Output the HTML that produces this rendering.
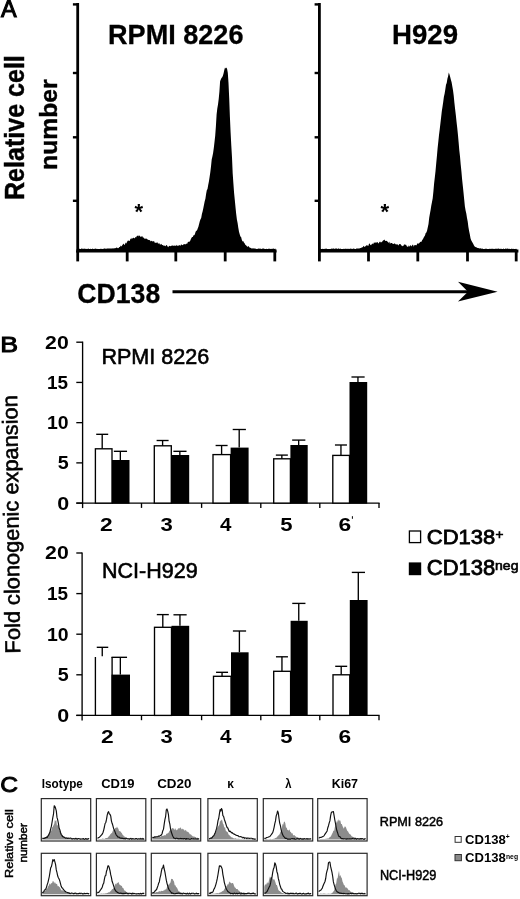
<!DOCTYPE html>
<html><head><meta charset="utf-8"><title>Figure</title>
<style>
html,body{margin:0;padding:0;background:#fff;}
body{width:520px;height:899px;overflow:hidden;}
svg{display:block;font-family:"Liberation Sans",sans-serif;}
</style></head><body>
<svg width="520" height="899" viewBox="0 0 520 899">
<rect width="520" height="899" fill="#fff"/>
<line x1="77.70" y1="3.00" x2="77.70" y2="252.40" stroke="#000" stroke-width="2.8" stroke-linecap="butt"/>
<line x1="76.30" y1="251.00" x2="276.60" y2="251.00" stroke="#000" stroke-width="3.0" stroke-linecap="butt"/>
<line x1="72.90" y1="4.40" x2="77.70" y2="4.40" stroke="#000" stroke-width="2.4" stroke-linecap="butt"/>
<line x1="72.90" y1="73.00" x2="77.70" y2="73.00" stroke="#000" stroke-width="2.4" stroke-linecap="butt"/>
<line x1="72.90" y1="137.30" x2="77.70" y2="137.30" stroke="#000" stroke-width="2.4" stroke-linecap="butt"/>
<line x1="72.90" y1="200.80" x2="77.70" y2="200.80" stroke="#000" stroke-width="2.4" stroke-linecap="butt"/>
<line x1="77.70" y1="251.00" x2="77.70" y2="261.40" stroke="#000" stroke-width="2.8" stroke-linecap="butt"/>
<line x1="127.20" y1="251.00" x2="127.20" y2="261.40" stroke="#000" stroke-width="2.8" stroke-linecap="butt"/>
<line x1="175.80" y1="251.00" x2="175.80" y2="261.40" stroke="#000" stroke-width="2.8" stroke-linecap="butt"/>
<line x1="225.20" y1="251.00" x2="225.20" y2="261.40" stroke="#000" stroke-width="2.8" stroke-linecap="butt"/>
<line x1="274.80" y1="251.00" x2="274.80" y2="261.40" stroke="#000" stroke-width="2.8" stroke-linecap="butt"/>
<line x1="319.40" y1="3.00" x2="319.40" y2="252.40" stroke="#000" stroke-width="2.8" stroke-linecap="butt"/>
<line x1="318.00" y1="251.00" x2="518.40" y2="251.00" stroke="#000" stroke-width="3.0" stroke-linecap="butt"/>
<line x1="314.60" y1="4.40" x2="319.40" y2="4.40" stroke="#000" stroke-width="2.4" stroke-linecap="butt"/>
<line x1="314.60" y1="73.00" x2="319.40" y2="73.00" stroke="#000" stroke-width="2.4" stroke-linecap="butt"/>
<line x1="314.60" y1="137.30" x2="319.40" y2="137.30" stroke="#000" stroke-width="2.4" stroke-linecap="butt"/>
<line x1="314.60" y1="200.80" x2="319.40" y2="200.80" stroke="#000" stroke-width="2.4" stroke-linecap="butt"/>
<line x1="319.40" y1="251.00" x2="319.40" y2="261.40" stroke="#000" stroke-width="2.8" stroke-linecap="butt"/>
<line x1="368.50" y1="251.00" x2="368.50" y2="261.40" stroke="#000" stroke-width="2.8" stroke-linecap="butt"/>
<line x1="417.80" y1="251.00" x2="417.80" y2="261.40" stroke="#000" stroke-width="2.8" stroke-linecap="butt"/>
<line x1="467.50" y1="251.00" x2="467.50" y2="261.40" stroke="#000" stroke-width="2.8" stroke-linecap="butt"/>
<line x1="516.20" y1="251.00" x2="516.20" y2="261.40" stroke="#000" stroke-width="2.8" stroke-linecap="butt"/>
<path d="M78.0,251.2 L78.0,248.6 L78.7,248.8 L79.4,248.7 L80.1,248.9 L80.8,248.9 L81.5,248.5 L82.2,248.5 L82.9,249.0 L83.6,248.7 L84.3,248.6 L85.0,249.1 L85.7,248.8 L86.4,249.0 L87.1,248.8 L87.8,248.9 L88.5,248.6 L89.2,248.9 L89.9,249.0 L90.6,248.8 L91.3,248.9 L92.0,248.9 L92.7,248.5 L93.4,249.0 L94.1,248.9 L94.8,248.7 L95.5,248.5 L96.2,249.0 L96.9,248.8 L97.6,248.9 L98.3,249.0 L99.0,248.9 L99.7,249.1 L100.4,248.7 L101.1,248.9 L101.8,248.7 L102.5,249.0 L103.2,248.9 L103.9,248.4 L104.6,248.4 L105.3,248.5 L106.0,248.9 L106.7,248.5 L107.4,248.6 L108.1,248.4 L108.8,248.5 L109.5,248.4 L110.2,248.4 L110.9,248.5 L111.6,248.5 L112.3,248.6 L113.0,248.3 L113.7,248.4 L114.4,248.2 L115.1,248.2 L115.8,247.9 L116.5,247.5 L117.2,247.7 L117.9,248.2 L118.6,247.9 L119.3,247.0 L120.0,247.0 L120.7,245.6 L121.4,246.4 L122.1,245.5 L122.8,244.5 L123.5,243.6 L124.2,244.8 L124.9,244.7 L125.6,242.6 L126.3,243.5 L127.0,242.0 L127.7,240.8 L128.4,240.5 L129.1,241.0 L129.8,240.7 L130.5,238.6 L131.2,239.3 L131.9,237.7 L132.6,238.7 L133.3,237.5 L134.0,238.3 L134.7,238.2 L135.4,236.9 L136.1,237.6 L136.8,236.1 L137.5,235.5 L138.2,236.5 L138.9,235.3 L139.6,235.8 L140.3,236.4 L141.0,237.0 L141.7,236.3 L142.4,236.3 L143.1,238.1 L143.8,237.2 L144.5,238.8 L145.2,239.0 L145.9,238.2 L146.6,238.7 L147.3,239.2 L148.0,239.7 L148.7,239.9 L149.4,240.1 L150.1,240.5 L150.8,241.4 L151.5,240.8 L152.2,240.9 L152.9,241.8 L153.6,241.1 L154.3,241.5 L155.0,243.2 L155.7,242.6 L156.4,242.9 L157.1,242.1 L157.8,243.2 L158.5,243.8 L159.2,242.9 L159.9,244.4 L160.6,244.6 L161.3,243.7 L162.0,245.1 L162.7,245.0 L163.4,245.7 L164.1,245.2 L164.8,246.1 L165.5,246.3 L166.2,245.0 L166.9,245.2 L167.6,246.6 L168.3,247.2 L169.0,245.7 L169.7,246.1 L170.4,246.3 L171.1,245.7 L171.8,245.7 L172.5,245.6 L173.2,245.6 L173.9,246.0 L174.6,245.4 L175.3,245.5 L176.0,246.2 L176.7,244.7 L177.4,245.8 L178.1,246.1 L178.8,245.2 L179.5,245.0 L180.2,246.1 L180.9,244.8 L181.6,244.6 L182.3,244.9 L183.0,245.3 L183.7,244.0 L184.4,244.3 L185.1,244.1 L185.8,244.6 L186.5,243.4 L187.2,243.7 L187.9,241.9 L188.6,241.7 L189.3,241.7 L190.0,241.3 L190.7,239.5 L191.4,238.1 L192.1,237.0 L192.8,236.9 L193.5,235.2 L194.2,235.3 L194.9,234.3 L195.6,231.8 L196.3,230.8 L197.0,230.6 L197.7,228.4 L198.4,226.8 L199.1,223.9 L199.8,221.2 L200.5,219.3 L201.2,218.1 L201.9,214.1 L202.6,211.4 L203.3,208.3 L204.0,204.8 L204.7,201.3 L205.4,198.8 L206.1,194.0 L206.8,190.3 L207.5,188.9 L208.2,185.1 L208.9,181.6 L209.6,176.9 L210.3,172.2 L211.0,166.5 L211.7,159.4 L212.4,156.6 L213.1,152.9 L213.8,147.9 L214.5,141.9 L215.2,135.8 L215.9,126.2 L216.6,114.6 L217.3,108.4 L218.0,104.5 L218.7,99.0 L219.4,91.7 L220.1,81.2 L220.8,79.6 L221.5,78.0 L222.2,77.3 L222.9,75.8 L223.6,73.2 L224.3,69.9 L225.0,67.6 L225.7,68.4 L226.4,67.6 L227.1,68.9 L227.8,72.8 L228.5,83.0 L229.2,98.0 L229.9,116.7 L230.6,132.2 L231.3,145.4 L232.0,157.6 L232.7,173.5 L233.4,183.4 L234.1,193.0 L234.8,200.0 L235.5,207.2 L236.2,213.9 L236.9,219.4 L237.6,222.9 L238.3,227.8 L239.0,231.8 L239.7,234.2 L240.4,236.4 L241.1,236.9 L241.8,239.7 L242.5,241.4 L243.2,241.1 L243.9,242.5 L244.6,243.3 L245.3,244.7 L246.0,245.3 L246.7,246.1 L247.4,247.1 L248.1,246.0 L248.8,246.5 L249.5,247.6 L250.2,247.8 L250.9,247.9 L251.6,248.5 L252.3,248.5 L253.0,248.2 L253.7,248.5 L254.4,248.5 L255.1,248.6 L255.8,248.7 L256.5,248.9 L257.2,248.9 L257.9,248.7 L258.6,248.6 L259.3,248.7 L260.0,248.6 L260.7,248.8 L261.4,248.9 L262.1,248.7 L262.8,248.5 L263.5,248.6 L264.2,248.7 L264.9,248.9 L265.6,249.0 L266.3,248.7 L267.0,249.0 L267.7,248.9 L268.4,248.8 L269.1,248.7 L269.8,248.8 L270.5,248.9 L271.2,248.8 L271.9,248.9 L272.6,248.8 L273.3,248.6 L274.0,248.8 L274.7,248.9 L275.4,248.5 L276.0,251.2 Z" fill="#000" stroke="none" stroke-width="1" stroke-linejoin="round"/>
<path d="M320.0,251.2 L320.0,248.8 L320.7,248.8 L321.4,249.0 L322.1,249.0 L322.8,248.7 L323.5,249.0 L324.2,248.9 L324.9,248.7 L325.6,248.8 L326.3,248.6 L327.0,249.0 L327.7,248.9 L328.4,249.0 L329.1,248.9 L329.8,248.9 L330.5,248.9 L331.2,248.8 L331.9,248.6 L332.6,248.8 L333.3,248.6 L334.0,248.6 L334.7,248.9 L335.4,248.6 L336.1,248.6 L336.8,248.6 L337.5,249.0 L338.2,248.6 L338.9,248.6 L339.6,249.0 L340.3,248.6 L341.0,249.0 L341.7,248.9 L342.4,249.0 L343.1,249.0 L343.8,248.8 L344.5,248.9 L345.2,248.6 L345.9,248.9 L346.6,248.8 L347.3,248.9 L348.0,248.6 L348.7,248.9 L349.4,249.0 L350.1,248.6 L350.8,248.7 L351.5,248.8 L352.2,249.0 L352.9,248.7 L353.6,248.6 L354.3,248.7 L355.0,248.9 L355.7,248.9 L356.4,248.6 L357.1,248.6 L357.8,248.5 L358.5,248.4 L359.2,248.4 L359.9,248.2 L360.6,248.1 L361.3,247.9 L362.0,247.1 L362.7,247.6 L363.4,245.8 L364.1,246.8 L364.8,246.7 L365.5,246.2 L366.2,245.6 L366.9,245.3 L367.6,245.5 L368.3,245.9 L369.0,243.8 L369.7,243.5 L370.4,244.9 L371.1,245.2 L371.8,244.0 L372.5,243.6 L373.2,244.2 L373.9,242.6 L374.6,242.7 L375.3,242.3 L376.0,243.1 L376.7,242.3 L377.4,241.9 L378.1,242.9 L378.8,243.4 L379.5,241.6 L380.2,242.5 L380.9,241.6 L381.6,242.5 L382.3,241.6 L383.0,240.5 L383.7,240.2 L384.4,239.4 L385.1,240.8 L385.8,240.9 L386.5,240.7 L387.2,241.5 L387.9,241.7 L388.6,243.0 L389.3,241.5 L390.0,243.9 L390.7,242.7 L391.4,243.1 L392.1,242.9 L392.8,244.0 L393.5,244.1 L394.2,243.6 L394.9,243.5 L395.6,244.3 L396.3,244.8 L397.0,243.7 L397.7,244.7 L398.4,245.5 L399.1,244.3 L399.8,243.9 L400.5,244.0 L401.2,245.4 L401.9,245.4 L402.6,246.3 L403.3,246.1 L404.0,244.6 L404.7,244.6 L405.4,244.8 L406.1,244.7 L406.8,246.2 L407.5,246.7 L408.2,246.8 L408.9,245.2 L409.6,246.7 L410.3,245.3 L411.0,245.6 L411.7,246.4 L412.4,244.7 L413.1,244.8 L413.8,246.7 L414.5,245.1 L415.2,245.0 L415.9,245.2 L416.6,245.2 L417.3,243.2 L418.0,243.8 L418.7,243.6 L419.4,243.1 L420.1,241.9 L420.8,241.8 L421.5,241.7 L422.2,239.9 L422.9,239.3 L423.6,237.7 L424.3,236.4 L425.0,235.5 L425.7,233.0 L426.4,232.5 L427.1,230.6 L427.8,227.3 L428.5,223.9 L429.2,217.8 L429.9,213.8 L430.6,209.9 L431.3,205.4 L432.0,202.1 L432.7,198.2 L433.4,191.5 L434.1,183.6 L434.8,177.6 L435.5,171.2 L436.2,163.6 L436.9,156.2 L437.6,148.3 L438.3,141.8 L439.0,135.1 L439.7,129.6 L440.4,123.5 L441.1,117.5 L441.8,111.2 L442.5,106.8 L443.2,102.1 L443.9,96.8 L444.6,93.8 L445.3,89.5 L446.0,84.8 L446.7,83.0 L447.4,78.8 L448.1,76.2 L448.8,72.5 L449.5,74.4 L450.2,76.9 L450.9,79.7 L451.6,82.2 L452.3,86.2 L453.0,90.3 L453.7,95.6 L454.4,102.7 L455.1,108.9 L455.8,114.8 L456.5,121.4 L457.2,127.6 L457.9,134.2 L458.6,142.0 L459.3,150.3 L460.0,156.4 L460.7,164.4 L461.4,171.3 L462.1,179.2 L462.8,185.7 L463.5,192.6 L464.2,199.6 L464.9,206.6 L465.6,210.6 L466.3,213.6 L467.0,218.0 L467.7,221.5 L468.4,227.1 L469.1,231.0 L469.8,234.2 L470.5,238.2 L471.2,240.2 L471.9,241.4 L472.6,242.7 L473.3,244.0 L474.0,245.5 L474.7,246.6 L475.4,247.0 L476.1,247.3 L476.8,247.5 L477.5,248.0 L478.2,248.0 L478.9,248.2 L479.6,248.4 L480.3,248.3 L481.0,248.4 L481.7,248.8 L482.4,248.5 L483.1,248.9 L483.8,249.0 L484.5,249.0 L485.2,248.7 L485.9,248.8 L486.6,248.8 L487.3,248.9 L488.0,249.0 L488.7,248.9 L489.4,248.7 L490.1,249.0 L490.8,248.8 L491.5,248.8 L492.2,248.9 L492.9,248.6 L493.6,248.9 L494.3,248.9 L495.0,248.8 L495.7,248.8 L496.4,248.8 L497.1,248.7 L497.8,248.8 L498.5,248.6 L499.2,248.8 L499.9,248.9 L500.6,248.8 L501.3,248.8 L502.0,249.0 L502.7,249.0 L503.4,248.6 L504.1,248.9 L504.8,248.9 L505.5,248.6 L506.2,248.7 L506.9,248.7 L507.6,248.6 L508.3,248.8 L509.0,249.0 L509.7,248.7 L510.4,249.0 L511.1,248.9 L511.8,248.6 L512.5,249.0 L513.2,248.8 L513.9,249.0 L514.6,248.9 L515.3,248.9 L516.0,248.7 L516.7,248.9 L517.0,251.2 Z" fill="#000" stroke="none" stroke-width="1" stroke-linejoin="round"/>
<text transform="translate(0.94,17.10) scale(0.9632,1)" font-size="24.29" font-weight="normal" fill="#000" stroke="#000" stroke-width="1.1">A</text>
<text transform="translate(108.07,43.80) scale(0.9690,1)" font-size="27.93" font-weight="bold" fill="#000" stroke="#000" stroke-width="0.3">RPMI 8226</text>
<text transform="translate(392.04,43.80) scale(0.9691,1)" font-size="28.51" font-weight="bold" fill="#000" stroke="#000" stroke-width="0.3">H929</text>
<text transform="translate(77.34,303.00) scale(0.9435,1)" font-size="28.22" font-weight="bold" fill="#000" stroke="#000" stroke-width="0.3">CD138</text>
<text transform="translate(134.44,219.37) scale(1.0280,1)" font-size="21.48" font-weight="bold" fill="#000">*</text>
<text transform="translate(380.54,218.57) scale(1.0401,1)" font-size="21.48" font-weight="bold" fill="#000">*</text>
<text transform="translate(23.50,199.99) rotate(-90) scale(1,1.1283)" font-size="25.06" font-weight="bold" fill="#000" stroke="#000" stroke-width="0.4">Relative cell</text>
<text transform="translate(57.00,169.90) rotate(-90) scale(1,0.9841)" font-size="24.67" font-weight="bold" fill="#000" stroke="#000" stroke-width="0.4">number</text>
<line x1="172.50" y1="291.70" x2="470.00" y2="291.70" stroke="#000" stroke-width="3.0" stroke-linecap="butt"/>
<path d="M497.6,291.7 L458.0,281.8 L468.0,291.7 L458.0,301.5 Z" fill="#000" stroke="none" stroke-width="1" stroke-linejoin="round"/>
<line x1="82.60" y1="341.60" x2="82.60" y2="508.10" stroke="#000" stroke-width="1.35" stroke-linecap="butt"/>
<line x1="76.30" y1="503.10" x2="379.60" y2="503.10" stroke="#000" stroke-width="1.35" stroke-linecap="butt"/>
<line x1="76.30" y1="503.10" x2="82.60" y2="503.10" stroke="#000" stroke-width="1.35" stroke-linecap="butt"/>
<text transform="translate(57.34,509.50) scale(1.1887,1)" font-size="18.06" font-weight="bold" fill="#000">0</text>
<line x1="76.30" y1="462.88" x2="82.60" y2="462.88" stroke="#000" stroke-width="1.35" stroke-linecap="butt"/>
<text transform="translate(57.71,469.27) scale(1.0905,1)" font-size="18.06" font-weight="bold" fill="#000">5</text>
<line x1="76.30" y1="422.65" x2="82.60" y2="422.65" stroke="#000" stroke-width="1.35" stroke-linecap="butt"/>
<text transform="translate(46.98,429.05) scale(1.0769,1)" font-size="18.06" font-weight="bold" fill="#000">10</text>
<line x1="76.30" y1="382.43" x2="82.60" y2="382.43" stroke="#000" stroke-width="1.35" stroke-linecap="butt"/>
<text transform="translate(47.02,388.82) scale(1.0474,1)" font-size="18.06" font-weight="bold" fill="#000">15</text>
<line x1="76.30" y1="342.20" x2="82.60" y2="342.20" stroke="#000" stroke-width="1.35" stroke-linecap="butt"/>
<text transform="translate(45.06,348.60) scale(1.1767,1)" font-size="18.06" font-weight="bold" fill="#000">20</text>
<line x1="141.50" y1="503.10" x2="141.50" y2="507.90" stroke="#000" stroke-width="1.35" stroke-linecap="butt"/>
<line x1="201.60" y1="503.10" x2="201.60" y2="507.90" stroke="#000" stroke-width="1.35" stroke-linecap="butt"/>
<line x1="260.80" y1="503.10" x2="260.80" y2="507.90" stroke="#000" stroke-width="1.35" stroke-linecap="butt"/>
<line x1="319.80" y1="503.10" x2="319.80" y2="507.90" stroke="#000" stroke-width="1.35" stroke-linecap="butt"/>
<line x1="379.00" y1="503.10" x2="379.00" y2="507.90" stroke="#000" stroke-width="1.35" stroke-linecap="butt"/>
<text transform="translate(101.42,363.80) scale(0.9692,1)" font-size="22.25" font-weight="normal" fill="#000" stroke="#000" stroke-width="0.6">RPMI 8226</text>
<rect x="95.40" y="448.80" width="16.60" height="54.30" fill="#fff" stroke="#000" stroke-width="1.35"/>
<line x1="102.20" y1="434.30" x2="102.20" y2="448.80" stroke="#000" stroke-width="1.35" stroke-linecap="butt"/>
<line x1="96.20" y1="434.30" x2="108.20" y2="434.30" stroke="#000" stroke-width="1.35" stroke-linecap="butt"/>
<rect x="112.00" y="460.00" width="17.50" height="43.70" fill="#000"/>
<line x1="120.35" y1="451.30" x2="120.35" y2="460.00" stroke="#000" stroke-width="1.35" stroke-linecap="butt"/>
<line x1="113.85" y1="451.30" x2="127.05" y2="451.30" stroke="#000" stroke-width="1.35" stroke-linecap="butt"/>
<text transform="translate(99.90,530.60) scale(1.2423,1)" font-size="18.35" font-weight="bold" fill="#000">2</text>
<rect x="154.30" y="445.80" width="17.00" height="57.30" fill="#fff" stroke="#000" stroke-width="1.35"/>
<line x1="162.60" y1="440.50" x2="162.60" y2="445.80" stroke="#000" stroke-width="1.35" stroke-linecap="butt"/>
<line x1="156.60" y1="440.50" x2="168.60" y2="440.50" stroke="#000" stroke-width="1.35" stroke-linecap="butt"/>
<rect x="171.30" y="455.00" width="17.90" height="48.70" fill="#000"/>
<line x1="179.85" y1="451.30" x2="179.85" y2="455.00" stroke="#000" stroke-width="1.35" stroke-linecap="butt"/>
<line x1="173.35" y1="451.30" x2="186.55" y2="451.30" stroke="#000" stroke-width="1.35" stroke-linecap="butt"/>
<text transform="translate(160.50,530.60) scale(1.2049,1)" font-size="18.35" font-weight="bold" fill="#000">3</text>
<rect x="213.00" y="454.60" width="17.60" height="48.50" fill="#fff" stroke="#000" stroke-width="1.35"/>
<line x1="221.60" y1="445.50" x2="221.60" y2="454.60" stroke="#000" stroke-width="1.35" stroke-linecap="butt"/>
<line x1="215.60" y1="445.50" x2="227.60" y2="445.50" stroke="#000" stroke-width="1.35" stroke-linecap="butt"/>
<rect x="230.60" y="447.60" width="18.00" height="56.10" fill="#000"/>
<line x1="239.20" y1="429.50" x2="239.20" y2="447.60" stroke="#000" stroke-width="1.35" stroke-linecap="butt"/>
<line x1="232.70" y1="429.50" x2="245.90" y2="429.50" stroke="#000" stroke-width="1.35" stroke-linecap="butt"/>
<text transform="translate(220.09,530.60) scale(1.1204,1)" font-size="18.35" font-weight="bold" fill="#000">4</text>
<rect x="273.70" y="458.80" width="16.70" height="44.30" fill="#fff" stroke="#000" stroke-width="1.35"/>
<line x1="281.85" y1="455.10" x2="281.85" y2="458.80" stroke="#000" stroke-width="1.35" stroke-linecap="butt"/>
<line x1="275.85" y1="455.10" x2="287.85" y2="455.10" stroke="#000" stroke-width="1.35" stroke-linecap="butt"/>
<rect x="290.40" y="445.00" width="17.30" height="58.70" fill="#000"/>
<line x1="298.65" y1="440.10" x2="298.65" y2="445.00" stroke="#000" stroke-width="1.35" stroke-linecap="butt"/>
<line x1="292.15" y1="440.10" x2="305.35" y2="440.10" stroke="#000" stroke-width="1.35" stroke-linecap="butt"/>
<text transform="translate(280.34,530.60) scale(1.2049,1)" font-size="18.35" font-weight="bold" fill="#000">5</text>
<rect x="332.80" y="455.40" width="16.70" height="47.70" fill="#fff" stroke="#000" stroke-width="1.35"/>
<line x1="340.95" y1="445.00" x2="340.95" y2="455.40" stroke="#000" stroke-width="1.35" stroke-linecap="butt"/>
<line x1="334.95" y1="445.00" x2="346.95" y2="445.00" stroke="#000" stroke-width="1.35" stroke-linecap="butt"/>
<rect x="349.50" y="382.00" width="17.70" height="121.70" fill="#000"/>
<line x1="357.95" y1="377.00" x2="357.95" y2="382.00" stroke="#000" stroke-width="1.35" stroke-linecap="butt"/>
<line x1="351.45" y1="377.00" x2="364.65" y2="377.00" stroke="#000" stroke-width="1.35" stroke-linecap="butt"/>
<text transform="translate(338.55,530.60) scale(1.2423,1)" font-size="18.35" font-weight="bold" fill="#000">6</text>
<line x1="82.10" y1="552.40" x2="82.10" y2="720.40" stroke="#000" stroke-width="1.35" stroke-linecap="butt"/>
<line x1="76.30" y1="715.40" x2="379.60" y2="715.40" stroke="#000" stroke-width="1.35" stroke-linecap="butt"/>
<line x1="76.30" y1="715.40" x2="82.10" y2="715.40" stroke="#000" stroke-width="1.35" stroke-linecap="butt"/>
<text transform="translate(57.34,721.80) scale(1.1887,1)" font-size="18.06" font-weight="bold" fill="#000">0</text>
<line x1="76.30" y1="674.80" x2="82.10" y2="674.80" stroke="#000" stroke-width="1.35" stroke-linecap="butt"/>
<text transform="translate(57.71,681.20) scale(1.0905,1)" font-size="18.06" font-weight="bold" fill="#000">5</text>
<line x1="76.30" y1="634.20" x2="82.10" y2="634.20" stroke="#000" stroke-width="1.35" stroke-linecap="butt"/>
<text transform="translate(46.98,640.60) scale(1.0769,1)" font-size="18.06" font-weight="bold" fill="#000">10</text>
<line x1="76.30" y1="593.60" x2="82.10" y2="593.60" stroke="#000" stroke-width="1.35" stroke-linecap="butt"/>
<text transform="translate(47.02,600.00) scale(1.0474,1)" font-size="18.06" font-weight="bold" fill="#000">15</text>
<line x1="76.30" y1="553.00" x2="82.10" y2="553.00" stroke="#000" stroke-width="1.35" stroke-linecap="butt"/>
<text transform="translate(45.06,559.40) scale(1.1767,1)" font-size="18.06" font-weight="bold" fill="#000">20</text>
<line x1="141.50" y1="715.40" x2="141.50" y2="720.20" stroke="#000" stroke-width="1.35" stroke-linecap="butt"/>
<line x1="201.60" y1="715.40" x2="201.60" y2="720.20" stroke="#000" stroke-width="1.35" stroke-linecap="butt"/>
<line x1="260.80" y1="715.40" x2="260.80" y2="720.20" stroke="#000" stroke-width="1.35" stroke-linecap="butt"/>
<line x1="319.80" y1="715.40" x2="319.80" y2="720.20" stroke="#000" stroke-width="1.35" stroke-linecap="butt"/>
<line x1="379.00" y1="715.40" x2="379.00" y2="720.20" stroke="#000" stroke-width="1.35" stroke-linecap="butt"/>
<text transform="translate(102.02,578.20) scale(0.9807,1)" font-size="21.96" font-weight="normal" fill="#000" stroke="#000" stroke-width="0.6">NCI-H929</text>
<line x1="95.40" y1="657.00" x2="95.40" y2="715.40" stroke="#000" stroke-width="1.35" stroke-linecap="butt"/>
<line x1="112.10" y1="657.00" x2="112.10" y2="715.40" stroke="#000" stroke-width="1.35" stroke-linecap="butt"/>
<line x1="102.25" y1="647.30" x2="102.25" y2="656.30" stroke="#000" stroke-width="1.35" stroke-linecap="butt"/>
<line x1="96.75" y1="647.30" x2="108.25" y2="647.30" stroke="#000" stroke-width="1.35" stroke-linecap="butt"/>
<rect x="111.50" y="674.60" width="18.50" height="41.40" fill="#000"/>
<line x1="120.35" y1="657.30" x2="120.35" y2="674.60" stroke="#000" stroke-width="1.35" stroke-linecap="butt"/>
<line x1="111.50" y1="657.30" x2="127.05" y2="657.30" stroke="#000" stroke-width="1.35" stroke-linecap="butt"/>
<text transform="translate(101.00,743.30) scale(1.1867,1)" font-size="19.21" font-weight="bold" fill="#000">2</text>
<rect x="154.50" y="627.30" width="17.00" height="88.10" fill="#fff" stroke="#000" stroke-width="1.35"/>
<line x1="162.80" y1="614.60" x2="162.80" y2="627.30" stroke="#000" stroke-width="1.35" stroke-linecap="butt"/>
<line x1="156.80" y1="614.60" x2="168.80" y2="614.60" stroke="#000" stroke-width="1.35" stroke-linecap="butt"/>
<rect x="171.50" y="625.80" width="17.70" height="90.20" fill="#000"/>
<line x1="179.95" y1="614.80" x2="179.95" y2="625.80" stroke="#000" stroke-width="1.35" stroke-linecap="butt"/>
<line x1="173.45" y1="614.80" x2="186.65" y2="614.80" stroke="#000" stroke-width="1.35" stroke-linecap="butt"/>
<text transform="translate(160.50,743.30) scale(1.1509,1)" font-size="19.21" font-weight="bold" fill="#000">3</text>
<rect x="213.50" y="676.30" width="17.50" height="39.10" fill="#fff" stroke="#000" stroke-width="1.35"/>
<line x1="222.05" y1="672.30" x2="222.05" y2="676.30" stroke="#000" stroke-width="1.35" stroke-linecap="butt"/>
<line x1="216.05" y1="672.30" x2="228.05" y2="672.30" stroke="#000" stroke-width="1.35" stroke-linecap="butt"/>
<rect x="231.00" y="652.30" width="17.60" height="63.70" fill="#000"/>
<line x1="239.40" y1="631.00" x2="239.40" y2="652.30" stroke="#000" stroke-width="1.35" stroke-linecap="butt"/>
<line x1="232.90" y1="631.00" x2="246.10" y2="631.00" stroke="#000" stroke-width="1.35" stroke-linecap="butt"/>
<text transform="translate(220.09,743.30) scale(1.0702,1)" font-size="19.21" font-weight="bold" fill="#000">4</text>
<rect x="273.70" y="671.30" width="16.90" height="44.10" fill="#fff" stroke="#000" stroke-width="1.35"/>
<line x1="281.95" y1="656.80" x2="281.95" y2="671.30" stroke="#000" stroke-width="1.35" stroke-linecap="butt"/>
<line x1="275.95" y1="656.80" x2="287.95" y2="656.80" stroke="#000" stroke-width="1.35" stroke-linecap="butt"/>
<rect x="290.60" y="620.80" width="17.10" height="95.20" fill="#000"/>
<line x1="298.75" y1="603.40" x2="298.75" y2="620.80" stroke="#000" stroke-width="1.35" stroke-linecap="butt"/>
<line x1="292.25" y1="603.40" x2="305.45" y2="603.40" stroke="#000" stroke-width="1.35" stroke-linecap="butt"/>
<text transform="translate(280.34,743.30) scale(1.1509,1)" font-size="19.21" font-weight="bold" fill="#000">5</text>
<rect x="333.00" y="674.80" width="16.80" height="40.60" fill="#fff" stroke="#000" stroke-width="1.35"/>
<line x1="341.20" y1="666.30" x2="341.20" y2="674.80" stroke="#000" stroke-width="1.35" stroke-linecap="butt"/>
<line x1="335.20" y1="666.30" x2="347.20" y2="666.30" stroke="#000" stroke-width="1.35" stroke-linecap="butt"/>
<rect x="349.80" y="600.00" width="17.80" height="116.00" fill="#000"/>
<line x1="358.30" y1="572.40" x2="358.30" y2="600.00" stroke="#000" stroke-width="1.35" stroke-linecap="butt"/>
<line x1="351.80" y1="572.40" x2="365.00" y2="572.40" stroke="#000" stroke-width="1.35" stroke-linecap="butt"/>
<text transform="translate(338.55,743.30) scale(1.1867,1)" font-size="19.21" font-weight="bold" fill="#000">6</text>
<line x1="352.40" y1="516.20" x2="352.40" y2="518.80" stroke="#000" stroke-width="1.0" stroke-linecap="butt"/>
<text transform="translate(0.20,352.20) scale(1.1603,1)" font-size="22.98" font-weight="normal" fill="#000" stroke="#000" stroke-width="1.0">B</text>
<text transform="translate(20.20,653.40) rotate(-90.66) scale(1,0.9861)" font-size="21.82" font-weight="normal" fill="#000" stroke="#000" stroke-width="0.55">Fold clonogenic expansion</text>
<rect x="409.40" y="531.00" width="11.20" height="11.60" fill="#fff" stroke="#000" stroke-width="1.3"/>
<text transform="translate(426.80,543.50) scale(1.0440,1)" font-size="21.09" font-weight="normal" fill="#000" stroke="#000" stroke-width="0.8">CD138</text>
<text transform="translate(495.56,538.91) scale(1.0700,1)" font-size="12.65" font-weight="normal" fill="#000" stroke="#000" stroke-width="0.7">+</text>
<rect x="408.8" y="562.4" width="12.4" height="12.8" fill="#000"/>
<text transform="translate(426.80,575.20) scale(1.0369,1)" font-size="21.24" font-weight="normal" fill="#000" stroke="#000" stroke-width="0.8">CD138</text>
<text transform="translate(495.05,570.20) scale(1.1270,1)" font-size="12.47" font-weight="normal" fill="#000" stroke="#000" stroke-width="0.6">neg</text>
<path d="M42.3,839.6 L42.3,838.5 L43.0,838.6 L43.7,838.3 L44.4,837.9 L45.1,838.1 L45.8,837.1 L46.5,836.8 L47.2,836.0 L47.9,835.4 L48.6,833.9 L49.3,834.0 L50.0,830.9 L50.7,831.2 L51.4,830.5 L52.1,827.4 L52.8,826.8 L53.5,825.3 L54.2,824.0 L54.9,819.8 L55.6,821.2 L56.3,820.0 L57.0,826.0 L57.7,824.6 L58.4,825.6 L59.1,827.7 L59.8,830.9 L60.5,830.7 L61.2,833.0 L61.9,835.0 L62.6,834.8 L63.3,836.3 L64.0,836.4 L64.7,837.3 L65.4,837.5 L66.1,838.0 L66.8,838.5 L67.5,838.4 L68.2,838.5 L68.9,838.9 L69.6,838.6 L70.3,838.9 L71.0,839.1 L71.7,838.7 L72.4,839.0 L73.1,839.0 L73.8,839.3 L74.5,838.9 L75.2,838.9 L75.9,839.0 L76.6,839.1 L77.3,838.9 L78.0,839.2 L78.7,839.1 L79.4,839.1 L80.1,839.0 L80.8,839.1 L81.5,839.2 L82.2,839.0 L82.9,838.9 L83.6,838.9 L84.3,838.9 L85.0,839.3 L85.7,839.3 L86.4,839.2 L87.1,839.0 L87.8,839.3 L88.5,839.0 L89.2,839.2 L89.2,839.6 Z" fill="#8c8c8c" stroke="none" stroke-width="1" stroke-linejoin="round"/>
<path d="M42.3,838.4 L43.0,838.4 L43.7,838.4 L44.4,838.4 L45.1,837.6 L45.8,838.0 L46.5,837.1 L47.2,837.5 L47.9,836.1 L48.6,835.2 L49.3,833.6 L50.0,831.7 L50.7,828.8 L51.4,826.2 L52.1,822.0 L52.8,817.6 L53.5,814.2 L54.2,805.8 L54.9,806.4 L55.6,808.3 L56.3,810.9 L57.0,817.4 L57.7,819.9 L58.4,823.4 L59.1,828.0 L59.8,829.7 L60.5,832.5 L61.2,834.5 L61.9,835.4 L62.6,836.6 L63.3,836.8 L64.0,837.3 L64.7,837.3 L65.4,838.2 L66.1,838.2 L66.8,837.8 L67.5,838.5 L68.2,838.0 L68.9,838.5 L69.6,838.2 L70.3,838.0 L71.0,838.3 L71.7,838.9 L72.4,838.9 L73.1,838.5 L73.8,838.8 L74.5,838.9 L75.2,838.6 L75.9,838.4 L76.6,838.7 L77.3,839.2 L78.0,838.5 L78.7,838.5 L79.4,838.7 L80.1,838.9 L80.8,839.1 L81.5,839.0 L82.2,838.8 L82.9,838.9 L83.6,838.6 L84.3,839.3 L85.0,839.2 L85.7,838.5 L86.4,839.1 L87.1,838.9 L87.8,839.1 L88.5,838.6 L89.2,838.5" fill="none" stroke="#111" stroke-width="1.15" stroke-linejoin="round"/>
<rect x="41.30" y="798.60" width="49.40" height="42.40" fill="none" stroke="#2a2a2a" stroke-width="1.2"/>
<path d="M97.4,839.6 L97.4,838.8 L98.1,839.2 L98.8,838.9 L99.5,839.1 L100.2,838.9 L100.9,839.1 L101.6,839.0 L102.3,838.6 L103.0,838.7 L103.7,838.8 L104.4,838.9 L105.1,838.5 L105.8,838.1 L106.5,837.9 L107.2,838.0 L107.9,837.5 L108.6,836.5 L109.3,836.1 L110.0,834.8 L110.7,834.1 L111.4,833.2 L112.1,832.8 L112.8,830.8 L113.5,829.9 L114.2,829.7 L114.9,828.5 L115.6,827.8 L116.3,827.9 L117.0,826.5 L117.7,828.1 L118.4,828.7 L119.1,831.2 L119.8,830.9 L120.5,831.4 L121.2,832.5 L121.9,833.2 L122.6,834.8 L123.3,835.3 L124.0,836.5 L124.7,836.5 L125.4,837.3 L126.1,837.3 L126.8,837.8 L127.5,838.3 L128.2,838.4 L128.9,838.4 L129.6,838.7 L130.3,838.8 L131.0,838.6 L131.7,838.8 L132.4,839.0 L133.1,838.9 L133.8,838.8 L134.5,838.9 L135.2,839.1 L135.9,839.2 L136.6,838.9 L137.3,839.3 L138.0,839.2 L138.7,839.1 L139.4,838.9 L140.1,839.1 L140.8,839.1 L141.5,838.9 L142.2,838.9 L142.9,838.9 L143.6,839.2 L144.3,839.1 L144.3,839.6 Z" fill="#8c8c8c" stroke="none" stroke-width="1" stroke-linejoin="round"/>
<path d="M97.4,838.1 L98.1,838.0 L98.8,837.5 L99.5,837.2 L100.2,836.4 L100.9,835.6 L101.6,834.8 L102.3,834.0 L103.0,832.5 L103.7,830.1 L104.4,827.0 L105.1,823.5 L105.8,822.5 L106.5,819.4 L107.2,815.1 L107.9,812.6 L108.6,811.6 L109.3,813.9 L110.0,814.3 L110.7,815.9 L111.4,820.8 L112.1,823.3 L112.8,825.3 L113.5,828.1 L114.2,830.1 L114.9,831.4 L115.6,833.6 L116.3,835.1 L117.0,835.7 L117.7,836.9 L118.4,837.1 L119.1,837.1 L119.8,837.9 L120.5,838.1 L121.2,838.1 L121.9,838.5 L122.6,838.2 L123.3,838.6 L124.0,838.6 L124.7,838.5 L125.4,838.9 L126.1,838.3 L126.8,838.5 L127.5,838.7 L128.2,838.8 L128.9,838.9 L129.6,839.1 L130.3,838.5 L131.0,838.4 L131.7,839.2 L132.4,838.6 L133.1,838.8 L133.8,838.9 L134.5,839.0 L135.2,838.9 L135.9,838.6 L136.6,838.5 L137.3,839.1 L138.0,839.1 L138.7,838.7 L139.4,838.8 L140.1,839.2 L140.8,838.4 L141.5,838.9 L142.2,839.2 L142.9,838.4 L143.6,839.2 L144.3,839.1" fill="none" stroke="#111" stroke-width="1.15" stroke-linejoin="round"/>
<rect x="96.40" y="798.60" width="49.40" height="42.40" fill="none" stroke="#2a2a2a" stroke-width="1.2"/>
<path d="M152.3,839.6 L152.3,837.9 L153.0,837.7 L153.7,837.7 L154.4,837.5 L155.1,837.6 L155.8,836.9 L156.5,836.8 L157.2,837.0 L157.9,836.5 L158.6,836.6 L159.3,836.8 L160.0,836.4 L160.7,836.9 L161.4,836.1 L162.1,835.9 L162.8,835.7 L163.5,835.8 L164.2,835.4 L164.9,835.0 L165.6,835.5 L166.3,833.7 L167.0,833.7 L167.7,833.3 L168.4,832.9 L169.1,831.6 L169.8,830.6 L170.5,829.4 L171.2,829.7 L171.9,828.3 L172.6,828.1 L173.3,828.8 L174.0,828.3 L174.7,830.2 L175.4,828.0 L176.1,830.4 L176.8,829.7 L177.5,829.7 L178.2,828.1 L178.9,828.8 L179.6,828.2 L180.3,827.2 L181.0,828.3 L181.7,829.4 L182.4,828.4 L183.1,829.7 L183.8,828.9 L184.5,830.7 L185.2,830.4 L185.9,829.7 L186.6,831.4 L187.3,831.5 L188.0,832.3 L188.7,832.2 L189.4,833.6 L190.1,834.7 L190.8,834.0 L191.5,835.3 L192.2,835.7 L192.9,836.4 L193.6,836.5 L194.3,836.6 L195.0,837.0 L195.7,837.1 L196.4,838.0 L197.1,837.5 L197.8,838.1 L198.5,838.2 L199.2,838.4 L199.2,839.6 Z" fill="#8c8c8c" stroke="none" stroke-width="1" stroke-linejoin="round"/>
<path d="M152.3,837.4 L153.0,837.5 L153.7,837.5 L154.4,836.8 L155.1,837.1 L155.8,836.8 L156.5,836.7 L157.2,836.7 L157.9,836.5 L158.6,836.1 L159.3,836.2 L160.0,835.8 L160.7,835.2 L161.4,835.1 L162.1,833.5 L162.8,830.7 L163.5,829.2 L164.2,824.1 L164.9,819.6 L165.6,816.7 L166.3,809.8 L167.0,809.0 L167.7,811.2 L168.4,814.3 L169.1,821.2 L169.8,823.8 L170.5,828.6 L171.2,831.8 L171.9,833.8 L172.6,835.8 L173.3,837.1 L174.0,838.1 L174.7,838.3 L175.4,838.7 L176.1,838.3 L176.8,838.2 L177.5,838.6 L178.2,838.5 L178.9,838.9 L179.6,838.7 L180.3,838.4 L181.0,838.9 L181.7,838.5 L182.4,838.6 L183.1,839.1 L183.8,838.5 L184.5,838.6 L185.2,838.6 L185.9,839.3 L186.6,838.5 L187.3,839.0 L188.0,838.8 L188.7,838.9 L189.4,839.3 L190.1,839.2 L190.8,839.2 L191.5,838.5 L192.2,838.8 L192.9,839.0 L193.6,838.7 L194.3,839.0 L195.0,839.0 L195.7,838.8 L196.4,839.0 L197.1,839.1 L197.8,838.8 L198.5,839.0 L199.2,838.7" fill="none" stroke="#111" stroke-width="1.15" stroke-linejoin="round"/>
<rect x="151.30" y="798.60" width="49.40" height="42.40" fill="none" stroke="#2a2a2a" stroke-width="1.2"/>
<path d="M208.9,839.6 L208.9,838.7 L209.6,838.4 L210.3,838.2 L211.0,837.3 L211.7,837.2 L212.4,836.7 L213.1,836.5 L213.8,835.3 L214.5,833.5 L215.2,832.7 L215.9,832.2 L216.6,829.6 L217.3,827.8 L218.0,826.8 L218.7,825.8 L219.4,824.4 L220.1,820.3 L220.8,821.6 L221.5,819.4 L222.2,820.2 L222.9,823.6 L223.6,824.5 L224.3,827.8 L225.0,826.9 L225.7,830.6 L226.4,831.2 L227.1,832.1 L227.8,832.3 L228.5,834.4 L229.2,834.9 L229.9,835.8 L230.6,836.5 L231.3,836.9 L232.0,837.8 L232.7,837.6 L233.4,838.2 L234.1,838.4 L234.8,838.5 L235.5,838.3 L236.2,838.5 L236.9,839.0 L237.6,838.7 L238.3,838.7 L239.0,838.8 L239.7,839.1 L240.4,839.2 L241.1,838.8 L241.8,839.3 L242.5,839.2 L243.2,839.1 L243.9,839.2 L244.6,839.1 L245.3,839.3 L246.0,839.2 L246.7,839.2 L247.4,839.1 L248.1,838.8 L248.8,839.0 L249.5,839.1 L250.2,839.1 L250.9,839.1 L251.6,839.1 L252.3,838.9 L253.0,839.1 L253.7,839.2 L254.4,839.2 L255.1,838.9 L255.8,839.3 L255.8,839.6 Z" fill="#8c8c8c" stroke="none" stroke-width="1" stroke-linejoin="round"/>
<path d="M208.9,838.6 L209.6,838.7 L210.3,838.3 L211.0,838.0 L211.7,838.2 L212.4,837.1 L213.1,836.2 L213.8,835.7 L214.5,834.3 L215.2,832.7 L215.9,830.6 L216.6,828.4 L217.3,825.1 L218.0,820.7 L218.7,818.5 L219.4,813.9 L220.1,809.6 L220.8,811.1 L221.5,808.5 L222.2,810.0 L222.9,815.7 L223.6,816.4 L224.3,819.2 L225.0,821.2 L225.7,823.3 L226.4,825.6 L227.1,827.5 L227.8,828.0 L228.5,829.8 L229.2,831.6 L229.9,831.2 L230.6,831.4 L231.3,832.8 L232.0,832.5 L232.7,833.3 L233.4,833.8 L234.1,834.1 L234.8,834.4 L235.5,834.9 L236.2,835.2 L236.9,835.5 L237.6,835.6 L238.3,835.8 L239.0,836.6 L239.7,836.7 L240.4,836.6 L241.1,836.8 L241.8,837.0 L242.5,837.8 L243.2,837.7 L243.9,837.4 L244.6,838.3 L245.3,838.0 L246.0,837.9 L246.7,838.6 L247.4,838.0 L248.1,838.1 L248.8,838.3 L249.5,838.4 L250.2,838.2 L250.9,838.2 L251.6,838.3 L252.3,838.5 L253.0,839.0 L253.7,838.8 L254.4,839.1 L255.1,839.1 L255.8,839.0" fill="none" stroke="#111" stroke-width="1.15" stroke-linejoin="round"/>
<rect x="207.90" y="798.60" width="49.40" height="42.40" fill="none" stroke="#2a2a2a" stroke-width="1.2"/>
<path d="M264.3,839.6 L264.3,838.9 L265.0,838.8 L265.7,838.8 L266.4,839.1 L267.1,839.0 L267.8,839.2 L268.5,839.2 L269.2,839.0 L269.9,839.2 L270.6,838.8 L271.3,839.2 L272.0,839.1 L272.7,839.1 L273.4,838.7 L274.1,838.9 L274.8,838.3 L275.5,838.1 L276.2,837.8 L276.9,837.3 L277.6,836.3 L278.3,835.5 L279.0,835.0 L279.7,834.0 L280.4,831.9 L281.1,830.9 L281.8,828.2 L282.5,824.1 L283.2,824.7 L283.9,822.1 L284.6,821.4 L285.3,823.2 L286.0,827.7 L286.7,827.5 L287.4,830.1 L288.1,830.0 L288.8,830.7 L289.5,829.3 L290.2,831.8 L290.9,831.9 L291.6,833.6 L292.3,833.0 L293.0,834.8 L293.7,835.6 L294.4,835.1 L295.1,835.9 L295.8,836.4 L296.5,837.1 L297.2,837.6 L297.9,837.1 L298.6,838.0 L299.3,837.7 L300.0,838.3 L300.7,838.1 L301.4,838.5 L302.1,838.4 L302.8,838.7 L303.5,838.9 L304.2,838.5 L304.9,838.7 L305.6,838.9 L306.3,838.8 L307.0,839.0 L307.7,838.8 L308.4,839.0 L309.1,838.9 L309.8,839.1 L310.5,839.2 L311.2,838.8 L311.2,839.6 Z" fill="#8c8c8c" stroke="none" stroke-width="1" stroke-linejoin="round"/>
<path d="M264.3,838.2 L265.0,838.4 L265.7,838.3 L266.4,837.6 L267.1,837.5 L267.8,837.3 L268.5,837.0 L269.2,836.7 L269.9,836.5 L270.6,835.5 L271.3,834.6 L272.0,833.6 L272.7,832.6 L273.4,830.3 L274.1,827.3 L274.8,823.7 L275.5,820.9 L276.2,815.9 L276.9,814.0 L277.6,811.0 L278.3,812.9 L279.0,818.5 L279.7,823.1 L280.4,825.7 L281.1,829.3 L281.8,832.5 L282.5,834.2 L283.2,835.9 L283.9,836.7 L284.6,837.4 L285.3,838.5 L286.0,838.3 L286.7,838.4 L287.4,839.1 L288.1,839.0 L288.8,839.1 L289.5,839.1 L290.2,839.3 L290.9,838.9 L291.6,838.8 L292.3,838.5 L293.0,838.9 L293.7,838.9 L294.4,838.6 L295.1,839.3 L295.8,839.2 L296.5,839.0 L297.2,838.4 L297.9,838.9 L298.6,838.7 L299.3,839.2 L300.0,838.8 L300.7,838.4 L301.4,839.0 L302.1,839.3 L302.8,838.8 L303.5,839.2 L304.2,838.5 L304.9,838.9 L305.6,839.0 L306.3,839.0 L307.0,838.5 L307.7,839.1 L308.4,838.9 L309.1,839.0 L309.8,838.9 L310.5,838.9 L311.2,838.7" fill="none" stroke="#111" stroke-width="1.15" stroke-linejoin="round"/>
<rect x="263.30" y="798.60" width="49.40" height="42.40" fill="none" stroke="#2a2a2a" stroke-width="1.2"/>
<path d="M318.7,839.6 L318.7,838.9 L319.4,839.2 L320.1,839.0 L320.8,838.9 L321.5,838.9 L322.2,838.9 L322.9,839.1 L323.6,838.9 L324.3,838.9 L325.0,839.0 L325.7,838.7 L326.4,838.8 L327.1,838.5 L327.8,838.4 L328.5,838.4 L329.2,837.8 L329.9,836.9 L330.6,836.7 L331.3,835.6 L332.0,833.9 L332.7,832.8 L333.4,830.5 L334.1,831.1 L334.8,827.3 L335.5,825.1 L336.2,821.1 L336.9,823.2 L337.6,820.8 L338.3,819.3 L339.0,821.4 L339.7,819.9 L340.4,820.8 L341.1,824.0 L341.8,824.0 L342.5,826.0 L343.2,827.5 L343.9,828.7 L344.6,826.6 L345.3,826.6 L346.0,827.4 L346.7,829.4 L347.4,831.1 L348.1,831.4 L348.8,832.9 L349.5,834.1 L350.2,834.2 L350.9,835.0 L351.6,836.3 L352.3,836.5 L353.0,836.9 L353.7,836.9 L354.4,837.6 L355.1,837.4 L355.8,838.0 L356.5,838.3 L357.2,838.4 L357.9,838.5 L358.6,838.3 L359.3,838.7 L360.0,838.8 L360.7,838.8 L361.4,838.6 L362.1,839.2 L362.8,839.2 L363.5,838.8 L364.2,838.9 L364.9,838.8 L365.6,839.2 L365.6,839.6 Z" fill="#8c8c8c" stroke="none" stroke-width="1" stroke-linejoin="round"/>
<path d="M318.7,837.7 L319.4,837.9 L320.1,837.3 L320.8,837.5 L321.5,837.3 L322.2,836.8 L322.9,836.6 L323.6,836.1 L324.3,835.3 L325.0,834.1 L325.7,833.1 L326.4,832.2 L327.1,830.9 L327.8,827.7 L328.5,825.7 L329.2,822.9 L329.9,820.9 L330.6,815.8 L331.3,812.7 L332.0,811.8 L332.7,812.0 L333.4,811.6 L334.1,815.7 L334.8,819.9 L335.5,823.5 L336.2,827.5 L336.9,830.8 L337.6,832.7 L338.3,835.2 L339.0,836.4 L339.7,836.5 L340.4,837.3 L341.1,838.4 L341.8,838.7 L342.5,838.6 L343.2,839.0 L343.9,838.7 L344.6,838.8 L345.3,839.0 L346.0,838.8 L346.7,839.1 L347.4,838.8 L348.1,838.9 L348.8,839.0 L349.5,838.8 L350.2,838.8 L350.9,839.0 L351.6,838.9 L352.3,838.4 L353.0,838.7 L353.7,838.7 L354.4,839.0 L355.1,838.4 L355.8,838.7 L356.5,839.2 L357.2,838.6 L357.9,838.7 L358.6,839.0 L359.3,838.8 L360.0,839.1 L360.7,838.5 L361.4,838.9 L362.1,838.5 L362.8,838.7 L363.5,839.2 L364.2,839.3 L364.9,838.6 L365.6,838.6" fill="none" stroke="#111" stroke-width="1.15" stroke-linejoin="round"/>
<rect x="317.70" y="798.60" width="49.40" height="42.40" fill="none" stroke="#2a2a2a" stroke-width="1.2"/>
<path d="M42.3,894.3 L42.3,892.3 L43.0,891.7 L43.7,891.2 L44.4,891.1 L45.1,890.6 L45.8,890.2 L46.5,888.6 L47.2,888.7 L47.9,886.5 L48.6,886.0 L49.3,884.1 L50.0,883.3 L50.7,884.7 L51.4,883.1 L52.1,883.0 L52.8,880.9 L53.5,881.3 L54.2,883.6 L54.9,881.7 L55.6,883.6 L56.3,884.1 L57.0,883.7 L57.7,886.2 L58.4,886.1 L59.1,886.8 L59.8,887.3 L60.5,888.7 L61.2,889.9 L61.9,890.5 L62.6,890.2 L63.3,890.8 L64.0,891.3 L64.7,891.8 L65.4,891.8 L66.1,892.4 L66.8,892.7 L67.5,892.6 L68.2,893.1 L68.9,893.1 L69.6,893.4 L70.3,893.6 L71.0,893.4 L71.7,893.7 L72.4,893.4 L73.1,893.7 L73.8,893.5 L74.5,893.5 L75.2,893.7 L75.9,893.5 L76.6,893.9 L77.3,893.9 L78.0,893.7 L78.7,893.9 L79.4,893.8 L80.1,893.7 L80.8,893.6 L81.5,893.7 L82.2,894.0 L82.9,893.6 L83.6,893.6 L84.3,893.8 L85.0,893.7 L85.7,894.0 L86.4,893.9 L87.1,894.0 L87.8,893.9 L88.5,893.8 L89.2,893.6 L89.2,894.3 Z" fill="#8c8c8c" stroke="none" stroke-width="1" stroke-linejoin="round"/>
<path d="M42.3,892.8 L43.0,892.3 L43.7,891.9 L44.4,890.1 L45.1,889.7 L45.8,889.0 L46.5,887.1 L47.2,884.6 L47.9,882.6 L48.6,879.7 L49.3,876.5 L50.0,872.2 L50.7,867.7 L51.4,866.6 L52.1,863.6 L52.8,859.7 L53.5,860.9 L54.2,859.5 L54.9,861.8 L55.6,864.7 L56.3,869.9 L57.0,872.7 L57.7,876.1 L58.4,877.7 L59.1,879.0 L59.8,880.9 L60.5,883.6 L61.2,886.3 L61.9,887.8 L62.6,888.1 L63.3,889.4 L64.0,890.1 L64.7,891.1 L65.4,891.3 L66.1,892.1 L66.8,892.3 L67.5,892.5 L68.2,893.0 L68.9,892.7 L69.6,893.5 L70.3,893.6 L71.0,893.1 L71.7,893.1 L72.4,893.3 L73.1,893.4 L73.8,893.9 L74.5,893.4 L75.2,893.1 L75.9,893.2 L76.6,893.8 L77.3,893.7 L78.0,893.5 L78.7,893.6 L79.4,893.2 L80.1,893.6 L80.8,893.2 L81.5,893.2 L82.2,893.5 L82.9,894.0 L83.6,893.8 L84.3,893.3 L85.0,893.6 L85.7,893.5 L86.4,893.5 L87.1,893.3 L87.8,893.5 L88.5,893.8 L89.2,893.5" fill="none" stroke="#111" stroke-width="1.15" stroke-linejoin="round"/>
<rect x="41.30" y="853.30" width="49.40" height="42.40" fill="none" stroke="#2a2a2a" stroke-width="1.2"/>
<path d="M97.4,894.3 L97.4,893.5 L98.1,893.6 L98.8,893.9 L99.5,893.9 L100.2,893.7 L100.9,893.7 L101.6,893.5 L102.3,893.8 L103.0,893.8 L103.7,893.4 L104.4,893.8 L105.1,893.3 L105.8,893.4 L106.5,893.2 L107.2,893.0 L107.9,892.8 L108.6,892.3 L109.3,892.6 L110.0,891.4 L110.7,891.2 L111.4,890.3 L112.1,889.3 L112.8,888.9 L113.5,888.4 L114.2,887.6 L114.9,884.9 L115.6,883.5 L116.3,884.6 L117.0,882.4 L117.7,883.3 L118.4,881.8 L119.1,883.7 L119.8,885.1 L120.5,885.2 L121.2,885.7 L121.9,885.9 L122.6,888.0 L123.3,888.1 L124.0,889.8 L124.7,890.7 L125.4,890.8 L126.1,891.8 L126.8,892.2 L127.5,892.4 L128.2,892.8 L128.9,893.2 L129.6,893.2 L130.3,893.2 L131.0,893.3 L131.7,893.7 L132.4,893.8 L133.1,893.6 L133.8,893.7 L134.5,893.9 L135.2,893.8 L135.9,893.9 L136.6,893.6 L137.3,893.7 L138.0,893.5 L138.7,894.0 L139.4,893.7 L140.1,893.9 L140.8,893.7 L141.5,893.9 L142.2,893.6 L142.9,893.8 L143.6,893.8 L144.3,893.9 L144.3,894.3 Z" fill="#8c8c8c" stroke="none" stroke-width="1" stroke-linejoin="round"/>
<path d="M97.4,893.1 L98.1,892.2 L98.8,892.4 L99.5,891.5 L100.2,890.3 L100.9,889.4 L101.6,888.4 L102.3,887.0 L103.0,884.4 L103.7,883.3 L104.4,879.2 L105.1,876.0 L105.8,875.5 L106.5,871.2 L107.2,869.2 L107.9,865.9 L108.6,865.9 L109.3,867.8 L110.0,870.7 L110.7,874.7 L111.4,877.4 L112.1,881.3 L112.8,883.2 L113.5,885.4 L114.2,887.7 L114.9,889.7 L115.6,890.6 L116.3,891.6 L117.0,892.0 L117.7,892.7 L118.4,892.7 L119.1,893.4 L119.8,893.3 L120.5,893.0 L121.2,893.6 L121.9,893.2 L122.6,893.7 L123.3,893.4 L124.0,893.7 L124.7,893.3 L125.4,893.4 L126.1,893.1 L126.8,893.3 L127.5,893.5 L128.2,893.9 L128.9,893.2 L129.6,893.2 L130.3,893.5 L131.0,893.4 L131.7,894.0 L132.4,893.2 L133.1,893.7 L133.8,893.3 L134.5,893.5 L135.2,893.7 L135.9,893.7 L136.6,893.9 L137.3,893.7 L138.0,893.8 L138.7,893.6 L139.4,893.9 L140.1,893.7 L140.8,893.3 L141.5,894.0 L142.2,893.3 L142.9,893.5 L143.6,893.2 L144.3,893.6" fill="none" stroke="#111" stroke-width="1.15" stroke-linejoin="round"/>
<rect x="96.40" y="853.30" width="49.40" height="42.40" fill="none" stroke="#2a2a2a" stroke-width="1.2"/>
<path d="M152.3,894.3 L152.3,893.1 L153.0,892.8 L153.7,892.9 L154.4,892.7 L155.1,892.4 L155.8,892.6 L156.5,892.1 L157.2,892.1 L157.9,892.2 L158.6,891.5 L159.3,891.3 L160.0,891.3 L160.7,891.6 L161.4,890.8 L162.1,891.1 L162.8,891.1 L163.5,890.6 L164.2,890.4 L164.9,889.6 L165.6,889.5 L166.3,889.3 L167.0,886.9 L167.7,886.3 L168.4,884.4 L169.1,884.5 L169.8,883.2 L170.5,882.4 L171.2,878.7 L171.9,879.1 L172.6,879.1 L173.3,880.6 L174.0,881.6 L174.7,885.2 L175.4,885.2 L176.1,887.1 L176.8,887.4 L177.5,888.7 L178.2,890.4 L178.9,891.4 L179.6,891.5 L180.3,892.2 L181.0,892.4 L181.7,892.9 L182.4,892.9 L183.1,893.5 L183.8,893.5 L184.5,893.7 L185.2,893.7 L185.9,893.6 L186.6,893.5 L187.3,893.6 L188.0,893.7 L188.7,893.9 L189.4,893.8 L190.1,893.5 L190.8,893.8 L191.5,893.8 L192.2,893.9 L192.9,893.9 L193.6,893.5 L194.3,893.5 L195.0,893.7 L195.7,894.0 L196.4,893.8 L197.1,893.5 L197.8,893.9 L198.5,893.9 L199.2,893.7 L199.2,894.3 Z" fill="#8c8c8c" stroke="none" stroke-width="1" stroke-linejoin="round"/>
<path d="M152.3,893.4 L153.0,892.6 L153.7,892.5 L154.4,892.1 L155.1,890.9 L155.8,890.1 L156.5,889.8 L157.2,887.8 L157.9,885.9 L158.6,883.3 L159.3,881.9 L160.0,877.9 L160.7,875.3 L161.4,871.2 L162.1,868.2 L162.8,867.9 L163.5,865.0 L164.2,869.0 L164.9,871.8 L165.6,876.0 L166.3,880.2 L167.0,883.3 L167.7,885.8 L168.4,888.0 L169.1,889.9 L169.8,890.7 L170.5,891.6 L171.2,892.3 L171.9,893.3 L172.6,893.0 L173.3,893.4 L174.0,893.7 L174.7,893.8 L175.4,893.6 L176.1,893.5 L176.8,893.3 L177.5,893.3 L178.2,893.1 L178.9,893.1 L179.6,893.2 L180.3,893.7 L181.0,893.3 L181.7,893.8 L182.4,893.9 L183.1,893.1 L183.8,893.3 L184.5,893.5 L185.2,893.4 L185.9,893.8 L186.6,893.8 L187.3,893.2 L188.0,893.9 L188.7,893.9 L189.4,893.2 L190.1,893.8 L190.8,893.8 L191.5,893.3 L192.2,893.3 L192.9,893.2 L193.6,893.2 L194.3,893.9 L195.0,893.8 L195.7,893.6 L196.4,893.2 L197.1,893.8 L197.8,893.6 L198.5,893.5 L199.2,893.8" fill="none" stroke="#111" stroke-width="1.15" stroke-linejoin="round"/>
<rect x="151.30" y="853.30" width="49.40" height="42.40" fill="none" stroke="#2a2a2a" stroke-width="1.2"/>
<path d="M208.9,894.3 L208.9,893.8 L209.6,893.9 L210.3,893.6 L211.0,893.9 L211.7,893.8 L212.4,893.5 L213.1,893.9 L213.8,893.6 L214.5,893.7 L215.2,893.6 L215.9,893.4 L216.6,893.3 L217.3,893.0 L218.0,893.4 L218.7,893.3 L219.4,892.8 L220.1,892.4 L220.8,892.3 L221.5,892.1 L222.2,891.1 L222.9,891.2 L223.6,890.5 L224.3,889.2 L225.0,888.3 L225.7,887.1 L226.4,886.5 L227.1,885.5 L227.8,884.0 L228.5,884.5 L229.2,881.2 L229.9,882.5 L230.6,882.6 L231.3,883.5 L232.0,883.1 L232.7,882.9 L233.4,883.7 L234.1,885.9 L234.8,887.4 L235.5,887.7 L236.2,888.9 L236.9,888.9 L237.6,889.1 L238.3,890.6 L239.0,890.6 L239.7,891.6 L240.4,891.9 L241.1,892.3 L241.8,892.5 L242.5,893.0 L243.2,892.8 L243.9,893.4 L244.6,893.3 L245.3,893.6 L246.0,893.5 L246.7,893.5 L247.4,893.6 L248.1,893.7 L248.8,893.5 L249.5,893.7 L250.2,893.5 L250.9,893.9 L251.6,893.6 L252.3,893.7 L253.0,893.7 L253.7,893.5 L254.4,893.6 L255.1,893.6 L255.8,893.5 L255.8,894.3 Z" fill="#8c8c8c" stroke="none" stroke-width="1" stroke-linejoin="round"/>
<path d="M208.9,892.9 L209.6,893.4 L210.3,893.4 L211.0,892.4 L211.7,892.6 L212.4,892.3 L213.1,891.6 L213.8,889.4 L214.5,888.4 L215.2,886.5 L215.9,884.3 L216.6,881.7 L217.3,878.4 L218.0,874.5 L218.7,870.2 L219.4,865.8 L220.1,866.3 L220.8,865.9 L221.5,867.3 L222.2,869.1 L222.9,874.6 L223.6,878.2 L224.3,882.3 L225.0,884.9 L225.7,887.4 L226.4,889.2 L227.1,890.3 L227.8,891.6 L228.5,891.8 L229.2,892.5 L229.9,892.8 L230.6,893.7 L231.3,893.5 L232.0,893.3 L232.7,893.8 L233.4,893.9 L234.1,893.1 L234.8,893.3 L235.5,893.8 L236.2,893.6 L236.9,893.2 L237.6,893.8 L238.3,893.5 L239.0,893.3 L239.7,893.1 L240.4,894.0 L241.1,894.0 L241.8,893.2 L242.5,893.5 L243.2,893.9 L243.9,893.2 L244.6,894.0 L245.3,893.5 L246.0,893.6 L246.7,893.7 L247.4,893.2 L248.1,893.5 L248.8,893.1 L249.5,893.3 L250.2,893.7 L250.9,893.6 L251.6,893.6 L252.3,893.2 L253.0,893.4 L253.7,893.1 L254.4,893.7 L255.1,894.0 L255.8,893.7" fill="none" stroke="#111" stroke-width="1.15" stroke-linejoin="round"/>
<rect x="207.90" y="853.30" width="49.40" height="42.40" fill="none" stroke="#2a2a2a" stroke-width="1.2"/>
<path d="M264.3,894.3 L264.3,886.8 L265.0,884.6 L265.7,884.5 L266.4,884.6 L267.1,882.1 L267.8,883.4 L268.5,882.4 L269.2,879.3 L269.9,876.4 L270.6,877.2 L271.3,879.3 L272.0,876.8 L272.7,878.3 L273.4,879.7 L274.1,878.9 L274.8,880.5 L275.5,882.6 L276.2,884.9 L276.9,885.0 L277.6,887.2 L278.3,889.7 L279.0,890.8 L279.7,891.1 L280.4,891.8 L281.1,892.1 L281.8,893.1 L282.5,893.1 L283.2,893.3 L283.9,893.4 L284.6,893.7 L285.3,893.7 L286.0,893.5 L286.7,893.8 L287.4,893.9 L288.1,893.9 L288.8,893.8 L289.5,893.6 L290.2,893.7 L290.9,893.8 L291.6,893.9 L292.3,893.6 L293.0,893.6 L293.7,893.8 L294.4,893.7 L295.1,893.5 L295.8,893.9 L296.5,893.8 L297.2,894.0 L297.9,893.7 L298.6,893.7 L299.3,893.8 L300.0,893.8 L300.7,893.6 L301.4,893.9 L302.1,893.6 L302.8,893.9 L303.5,893.5 L304.2,893.5 L304.9,893.7 L305.6,893.9 L306.3,893.5 L307.0,893.6 L307.7,893.6 L308.4,893.9 L309.1,893.6 L309.8,893.9 L310.5,893.6 L311.2,893.9 L311.2,894.3 Z" fill="#8c8c8c" stroke="none" stroke-width="1" stroke-linejoin="round"/>
<path d="M264.3,893.3 L265.0,893.1 L265.7,892.9 L266.4,892.1 L267.1,891.5 L267.8,890.0 L268.5,888.5 L269.2,887.0 L269.9,885.9 L270.6,882.9 L271.3,878.6 L272.0,877.1 L272.7,872.3 L273.4,869.1 L274.1,867.5 L274.8,862.8 L275.5,864.1 L276.2,866.6 L276.9,871.7 L277.6,873.7 L278.3,878.4 L279.0,881.0 L279.7,884.3 L280.4,886.5 L281.1,888.7 L281.8,889.3 L282.5,891.0 L283.2,891.6 L283.9,892.1 L284.6,892.6 L285.3,893.0 L286.0,893.5 L286.7,893.3 L287.4,893.0 L288.1,893.9 L288.8,893.3 L289.5,893.8 L290.2,893.4 L290.9,893.2 L291.6,893.4 L292.3,893.6 L293.0,893.2 L293.7,893.7 L294.4,893.7 L295.1,893.6 L295.8,893.2 L296.5,893.1 L297.2,893.8 L297.9,893.8 L298.6,893.6 L299.3,893.6 L300.0,893.2 L300.7,893.6 L301.4,894.0 L302.1,894.0 L302.8,893.5 L303.5,893.3 L304.2,893.9 L304.9,894.0 L305.6,893.8 L306.3,894.0 L307.0,893.6 L307.7,893.4 L308.4,893.1 L309.1,893.8 L309.8,893.8 L310.5,893.6 L311.2,893.8" fill="none" stroke="#111" stroke-width="1.15" stroke-linejoin="round"/>
<rect x="263.30" y="853.30" width="49.40" height="42.40" fill="none" stroke="#2a2a2a" stroke-width="1.2"/>
<path d="M318.7,894.3 L318.7,893.7 L319.4,893.9 L320.1,893.8 L320.8,893.6 L321.5,893.7 L322.2,893.7 L322.9,893.8 L323.6,893.5 L324.3,893.6 L325.0,893.7 L325.7,893.8 L326.4,894.0 L327.1,893.5 L327.8,893.9 L328.5,893.5 L329.2,893.7 L329.9,893.7 L330.6,893.7 L331.3,893.5 L332.0,892.9 L332.7,892.4 L333.4,891.4 L334.1,890.5 L334.8,887.7 L335.5,884.6 L336.2,883.5 L336.9,878.5 L337.6,878.3 L338.3,874.1 L339.0,870.8 L339.7,876.4 L340.4,874.9 L341.1,877.2 L341.8,877.9 L342.5,881.5 L343.2,882.9 L343.9,885.1 L344.6,885.3 L345.3,887.2 L346.0,887.7 L346.7,887.5 L347.4,888.2 L348.1,889.5 L348.8,890.2 L349.5,890.0 L350.2,891.6 L350.9,891.4 L351.6,892.3 L352.3,892.4 L353.0,892.1 L353.7,893.0 L354.4,892.9 L355.1,893.0 L355.8,893.3 L356.5,893.4 L357.2,893.3 L357.9,893.7 L358.6,893.4 L359.3,893.4 L360.0,893.6 L360.7,893.8 L361.4,893.8 L362.1,893.6 L362.8,893.5 L363.5,893.9 L364.2,893.5 L364.9,893.7 L365.6,893.5 L365.6,894.3 Z" fill="#8c8c8c" stroke="none" stroke-width="1" stroke-linejoin="round"/>
<path d="M318.7,891.7 L319.4,890.9 L320.1,890.5 L320.8,890.3 L321.5,889.1 L322.2,888.4 L322.9,886.3 L323.6,884.5 L324.3,883.0 L325.0,881.5 L325.7,878.5 L326.4,873.3 L327.1,870.6 L327.8,868.3 L328.5,862.6 L329.2,862.1 L329.9,862.0 L330.6,866.4 L331.3,869.3 L332.0,872.3 L332.7,876.5 L333.4,881.9 L334.1,884.6 L334.8,886.8 L335.5,889.1 L336.2,890.5 L336.9,891.5 L337.6,892.2 L338.3,892.2 L339.0,892.7 L339.7,893.2 L340.4,893.0 L341.1,893.4 L341.8,893.2 L342.5,893.5 L343.2,893.6 L343.9,893.4 L344.6,893.5 L345.3,893.7 L346.0,893.7 L346.7,893.7 L347.4,893.9 L348.1,893.5 L348.8,894.0 L349.5,893.7 L350.2,893.5 L350.9,893.2 L351.6,893.7 L352.3,893.4 L353.0,893.5 L353.7,893.6 L354.4,893.8 L355.1,893.7 L355.8,893.6 L356.5,893.8 L357.2,893.8 L357.9,893.5 L358.6,893.2 L359.3,893.3 L360.0,893.3 L360.7,893.9 L361.4,893.3 L362.1,893.2 L362.8,893.7 L363.5,893.8 L364.2,893.4 L364.9,893.8 L365.6,893.7" fill="none" stroke="#111" stroke-width="1.15" stroke-linejoin="round"/>
<rect x="317.70" y="853.30" width="49.40" height="42.40" fill="none" stroke="#2a2a2a" stroke-width="1.2"/>
<text transform="translate(0.37,792.40) scale(1.0845,1)" font-size="22.65" font-weight="normal" fill="#000" stroke="#000" stroke-width="1.0">C</text>
<text transform="translate(41.81,787.60) scale(0.8583,1)" font-size="13.67" font-weight="bold" fill="#000">Isotype</text>
<text transform="translate(101.18,787.60) scale(0.9526,1)" font-size="13.67" font-weight="bold" fill="#000">CD19</text>
<text transform="translate(157.16,787.60) scale(0.9840,1)" font-size="13.67" font-weight="bold" fill="#000">CD20</text>
<text transform="translate(227.17,787.60) scale(0.9229,1)" font-size="12.89" font-weight="bold" fill="#000">κ</text>
<text transform="translate(285.14,787.60) scale(0.8948,1)" font-size="12.53" font-weight="bold" fill="#000">λ</text>
<text transform="translate(331.76,787.60) scale(0.9106,1)" font-size="13.67" font-weight="bold" fill="#000">Ki67</text>
<text transform="translate(379.75,825.90) scale(0.9267,1)" font-size="13.67" font-weight="normal" fill="#000" stroke="#000" stroke-width="0.5">RPMI 8226</text>
<text transform="translate(379.95,879.70) scale(0.9185,1)" font-size="13.82" font-weight="normal" fill="#000" stroke="#000" stroke-width="0.5">NCI-H929</text>
<rect x="455.10" y="836.50" width="6.10" height="5.80" fill="#fff" stroke="#333" stroke-width="1.0"/>
<text transform="translate(465.08,843.50) scale(1.0457,1)" font-size="12.51" font-weight="bold" fill="#000">CD138</text>
<text transform="translate(505.71,839.43) scale(0.9909,1)" font-size="6.86" font-weight="bold" fill="#000">+</text>
<rect x="455.0" y="854.5" width="6.4" height="6.2" fill="#8a8a8a" stroke="#333" stroke-width="1"/>
<text transform="translate(465.08,861.70) scale(1.0457,1)" font-size="12.51" font-weight="bold" fill="#000">CD138</text>
<text transform="translate(505.96,858.60) scale(1.0747,1)" font-size="6.33" font-weight="bold" fill="#000">neg</text>
<text transform="translate(12.60,878.05) rotate(-90) scale(1,0.8850)" font-size="12.78" font-weight="normal" fill="#000" stroke="#000" stroke-width="0.5">Relative cell</text>
<text transform="translate(27.20,862.59) rotate(-90) scale(1,0.9480)" font-size="11.64" font-weight="normal" fill="#000" stroke="#000" stroke-width="0.5">number</text>
</svg>
</body></html>
